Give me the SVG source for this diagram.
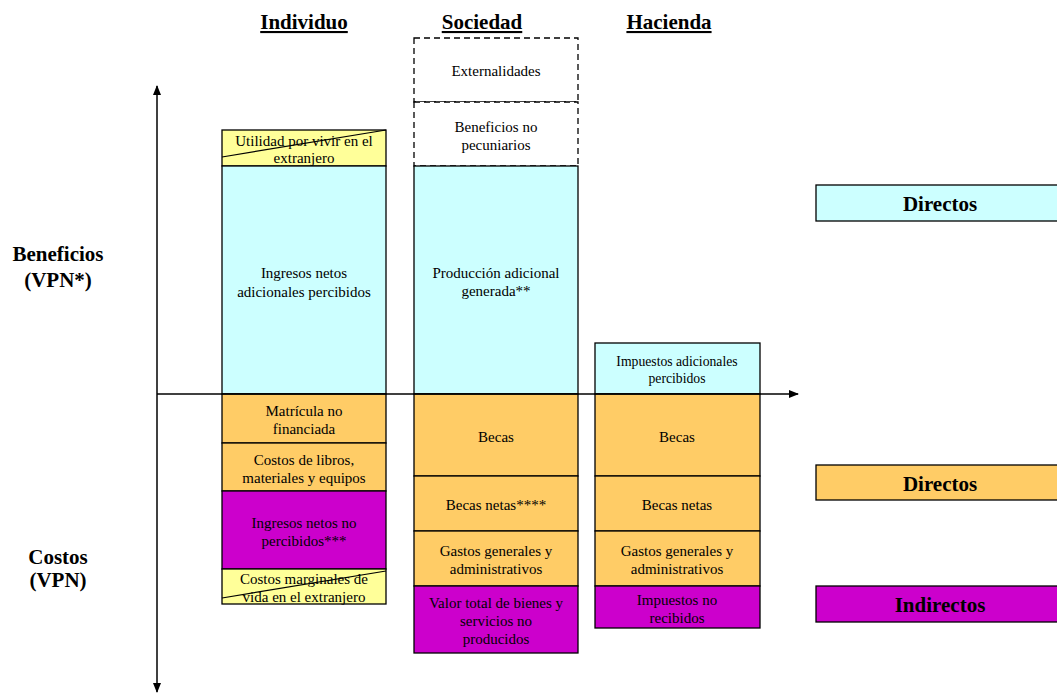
<svg xmlns="http://www.w3.org/2000/svg" width="1057" height="693" viewBox="0 0 1057 693">
<style>
.b{stroke:#000;stroke-width:1.3}
.c{fill:#CCFFFF}.o{fill:#FFCC66}.m{fill:#CC00CC}.y{fill:#FFFF99}
.d{fill:#fff;stroke:#000;stroke-width:1.3;stroke-dasharray:6 4}
text{font-family:"Liberation Serif","Times New Roman",serif;fill:#000;text-anchor:middle}
.t{font-size:15px}
.s{font-size:13.7px}
.h{font-size:21px;font-weight:bold;text-decoration:underline}
.l{font-size:21px;font-weight:bold}
.g{font-size:21px;font-weight:bold}
</style>
<defs>
<marker id="ah" markerWidth="10" markerHeight="8" refX="9" refY="4" orient="auto" markerUnits="userSpaceOnUse">
<path d="M0,0 L10,4 L0,8 z" fill="#000"/>
</marker>
</defs>
<rect width="1057" height="693" fill="#fff"/>
<g id="headers">
<text class="h" x="304" y="29">Individuo</text>
<text class="h" x="482" y="29">Sociedad</text>
<text class="h" x="669" y="29">Hacienda</text>
</g>
<g id="axis-labels">
<text class="l" x="58" y="261">Beneficios</text>
<text class="l" x="58" y="287">(VPN*)</text>
<text class="l" x="58" y="564">Costos</text>
<text class="l" x="58" y="587">(VPN)</text>
</g>
<g id="individuo">
<g id="ind-utilidad"><rect class="b y" x="222" y="130" width="164" height="36"/><line x1="222" y1="157" x2="386" y2="130" stroke="#000" stroke-width="1.2"/><text class="t" x="304" y="146">Utilidad por vivir en el</text><text class="t" x="304" y="163">extranjero</text></g>
<g id="ind-ingresos"><rect class="b c" x="222" y="166" width="164" height="228"/><text class="t" x="304" y="278">Ingresos netos</text><text class="t" x="304" y="297">adicionales percibidos</text></g>
<g id="ind-matricula"><rect class="b o" x="222" y="394" width="164" height="49"/><text class="t" x="304" y="416">Matrícula no</text><text class="t" x="304" y="434">financiada</text></g>
<g id="ind-libros"><rect class="b o" x="222" y="443" width="164" height="48"/><text class="t" x="304" y="465">Costos de libros,</text><text class="t" x="304" y="483">materiales y equipos</text></g>
<g id="ind-noperc"><rect class="b m" x="222" y="491" width="164" height="78"/><text class="t" x="304" y="528">Ingresos netos no</text><text class="t" x="304" y="546">percibidos***</text></g>
<g id="ind-marginales"><rect class="b y" x="222" y="569" width="164" height="35"/><line x1="222" y1="598" x2="386" y2="571" stroke="#000" stroke-width="1.2"/><text class="t" x="304" y="584">Costos marginales de</text><text class="t" x="304" y="602">vida en el extranjero</text></g>
</g>
<g id="sociedad">
<g id="soc-ext"><rect class="d" x="414" y="38" width="164" height="64"/><text class="t" x="496" y="76">Externalidades</text></g>
<g id="soc-nopec"><rect class="d" x="414" y="102" width="164" height="64"/><text class="t" x="496" y="132">Beneficios no</text><text class="t" x="496" y="150">pecuniarios</text></g>
<g id="soc-prod"><rect class="b c" x="414" y="166" width="164" height="228"/><text class="t" x="496" y="278">Producción adicional</text><text class="t" x="496" y="296">generada**</text></g>
<g id="soc-becas"><rect class="b o" x="414" y="394" width="164" height="82"/><text class="t" x="496" y="442">Becas</text></g>
<g id="soc-becasnetas"><rect class="b o" x="414" y="476" width="164" height="55"/><text class="t" x="496" y="510">Becas netas****</text></g>
<g id="soc-gastos"><rect class="b o" x="414" y="531" width="164" height="55"/><text class="t" x="496" y="556">Gastos generales y</text><text class="t" x="496" y="574">administrativos</text></g>
<g id="soc-valor"><rect class="b m" x="414" y="586" width="164" height="67"/><text class="t" x="496" y="608">Valor total de bienes y</text><text class="t" x="496" y="626">servicios no</text><text class="t" x="496" y="644">producidos</text></g>
</g>
<g id="hacienda">
<g id="hac-imp"><rect class="b c" x="595" y="343" width="165" height="51"/><text class="s" x="677" y="366">Impuestos adicionales</text><text class="s" x="677" y="383">percibidos</text></g>
<g id="hac-becas"><rect class="b o" x="595" y="394" width="165" height="82"/><text class="t" x="677" y="442">Becas</text></g>
<g id="hac-becasnetas"><rect class="b o" x="595" y="476" width="165" height="55"/><text class="t" x="677" y="510">Becas netas</text></g>
<g id="hac-gastos"><rect class="b o" x="595" y="531" width="165" height="55"/><text class="t" x="677" y="556">Gastos generales y</text><text class="t" x="677" y="574">administrativos</text></g>
<g id="hac-noreci"><rect class="b m" x="595" y="586" width="165" height="42"/><text class="t" x="677" y="605">Impuestos no</text><text class="t" x="677" y="623">recibidos</text></g>
</g>
<g id="connectors">
<line x1="157" y1="394" x2="157" y2="86" stroke="#000" stroke-width="1.5" marker-end="url(#ah)"/>
<line x1="157" y1="394" x2="157" y2="692" stroke="#000" stroke-width="1.5" marker-end="url(#ah)"/>
<line x1="157" y1="394" x2="798" y2="394" stroke="#000" stroke-width="1.3" marker-end="url(#ah)"/>
</g>
<g id="legend">
<g id="leg-dir-ben"><rect class="b c" x="816" y="185" width="245" height="36"/><text class="g" x="940" y="211">Directos</text></g>
<g id="leg-dir-cost"><rect class="b o" x="816" y="465" width="245" height="35"/><text class="g" x="940" y="491">Directos</text></g>
<g id="leg-ind"><rect class="b m" x="816" y="586" width="245" height="36"/><text class="g" x="940" y="612">Indirectos</text></g>
</g>
</svg>
